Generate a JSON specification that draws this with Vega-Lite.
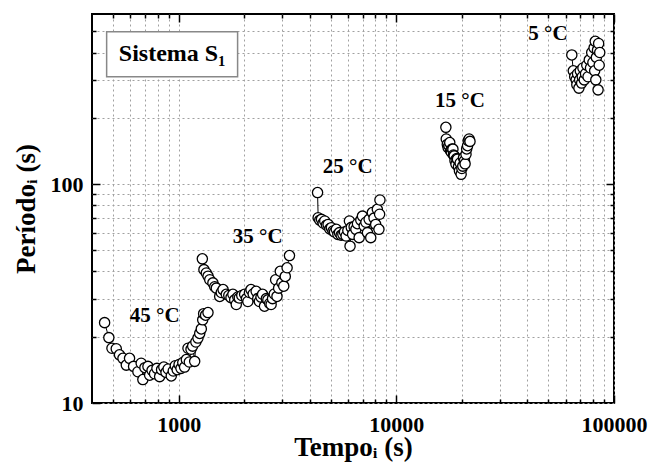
{
  "$schema": "https://vega.github.io/schema/vega-lite/v6.json",
  "width": 522,
  "height": 389,
  "autosize": {"type": "none"},
  "padding": {"left": 92, "top": 14, "right": 35, "bottom": 68},
  "background": "white",
  "config": {
    "view": {"stroke": "black", "strokeWidth": 2},
    "font": "Liberation Serif",
    "axis": {
      "labelFont": "Liberation Serif",
      "labelFontSize": 22,
      "labelFontWeight": "bold",
      "labelColor": "black",
      "titleFont": "Liberation Serif",
      "titleFontSize": 27,
      "titleFontWeight": "bold",
      "titleColor": "black",
      "tickColor": "black",
      "tickWidth": 1.5,
      "domain": false,
      "gridColor": "#a0a0a0",
      "gridDash": [2, 3],
      "gridWidth": 1,
      "labelFlush": false,
      "labelOverlap": false
    }
  },
  "datasets": {
    "main": [
      {"s": "45", "t": 457, "p": 23.3}, {"s": "45", "t": 478, "p": 19.9}, {"s": "45", "t": 494, "p": 17.8}, {"s": "45", "t": 517, "p": 17.7},
      {"s": "45", "t": 535, "p": 16.6}, {"s": "45", "t": 555, "p": 16.0}, {"s": "45", "t": 575, "p": 14.9}, {"s": "45", "t": 595, "p": 16.0},
      {"s": "45", "t": 621, "p": 14.7}, {"s": "45", "t": 650, "p": 13.9}, {"s": "45", "t": 673, "p": 15.2}, {"s": "45", "t": 685, "p": 12.8},
      {"s": "45", "t": 700, "p": 14.5}, {"s": "45", "t": 723, "p": 14.7}, {"s": "45", "t": 736, "p": 13.4}, {"s": "45", "t": 755, "p": 14.1},
      {"s": "45", "t": 775, "p": 13.6}, {"s": "45", "t": 795, "p": 14.4}, {"s": "45", "t": 818, "p": 13.2}, {"s": "45", "t": 835, "p": 14.2},
      {"s": "45", "t": 855, "p": 14.6}, {"s": "45", "t": 875, "p": 13.8}, {"s": "45", "t": 895, "p": 14.3}, {"s": "45", "t": 925, "p": 13.3},
      {"s": "45", "t": 945, "p": 14.0}, {"s": "45", "t": 965, "p": 14.8}, {"s": "45", "t": 985, "p": 14.2}, {"s": "45", "t": 1005, "p": 15.0},
      {"s": "45", "t": 1025, "p": 14.4}, {"s": "45", "t": 1045, "p": 15.3}, {"s": "45", "t": 1065, "p": 14.6}, {"s": "45", "t": 1085, "p": 15.8},
      {"s": "45", "t": 1104, "p": 17.8}, {"s": "45", "t": 1120, "p": 15.4}, {"s": "45", "t": 1140, "p": 17.6}, {"s": "45", "t": 1160, "p": 18.2},
      {"s": "45", "t": 1185, "p": 15.5}, {"s": "45", "t": 1200, "p": 19.0}, {"s": "45", "t": 1227, "p": 19.8}, {"s": "45", "t": 1250, "p": 20.8},
      {"s": "45", "t": 1271, "p": 21.8}, {"s": "45", "t": 1290, "p": 24.0}, {"s": "45", "t": 1303, "p": 25.6}, {"s": "45", "t": 1330, "p": 25.2},
      {"s": "45", "t": 1364, "p": 25.9},
      {"s": "35", "t": 1285, "p": 45.6}, {"s": "35", "t": 1307, "p": 40.7}, {"s": "35", "t": 1340, "p": 39.3}, {"s": "35", "t": 1365, "p": 38.0},
      {"s": "35", "t": 1390, "p": 36.6}, {"s": "35", "t": 1437, "p": 35.4}, {"s": "35", "t": 1465, "p": 34.0}, {"s": "35", "t": 1490, "p": 33.5},
      {"s": "35", "t": 1544, "p": 30.7}, {"s": "35", "t": 1570, "p": 32.0}, {"s": "35", "t": 1600, "p": 33.0}, {"s": "35", "t": 1655, "p": 31.4},
      {"s": "35", "t": 1700, "p": 31.0}, {"s": "35", "t": 1740, "p": 30.3}, {"s": "35", "t": 1775, "p": 31.4}, {"s": "35", "t": 1810, "p": 29.6},
      {"s": "35", "t": 1840, "p": 28.2}, {"s": "35", "t": 1870, "p": 30.5}, {"s": "35", "t": 1900, "p": 30.2}, {"s": "35", "t": 1950, "p": 31.0},
      {"s": "35", "t": 2010, "p": 31.4}, {"s": "35", "t": 2050, "p": 30.0}, {"s": "35", "t": 2080, "p": 29.1}, {"s": "35", "t": 2115, "p": 32.0},
      {"s": "35", "t": 2150, "p": 33.0}, {"s": "35", "t": 2200, "p": 31.5}, {"s": "35", "t": 2270, "p": 32.4}, {"s": "35", "t": 2310, "p": 30.0},
      {"s": "35", "t": 2350, "p": 29.1}, {"s": "35", "t": 2390, "p": 30.5}, {"s": "35", "t": 2430, "p": 31.4}, {"s": "35", "t": 2480, "p": 27.7},
      {"s": "35", "t": 2530, "p": 30.0}, {"s": "35", "t": 2570, "p": 29.6}, {"s": "35", "t": 2620, "p": 28.5}, {"s": "35", "t": 2660, "p": 28.2},
      {"s": "35", "t": 2700, "p": 30.0}, {"s": "35", "t": 2750, "p": 31.5}, {"s": "35", "t": 2790, "p": 36.6}, {"s": "35", "t": 2830, "p": 30.7},
      {"s": "35", "t": 2880, "p": 33.5}, {"s": "35", "t": 2930, "p": 40.0}, {"s": "35", "t": 2980, "p": 35.5}, {"s": "35", "t": 3040, "p": 34.2},
      {"s": "35", "t": 3090, "p": 37.9}, {"s": "35", "t": 3150, "p": 41.5}, {"s": "35", "t": 3230, "p": 47.2},
      {"s": "25", "t": 4347, "p": 91.6}, {"s": "25", "t": 4375, "p": 70.3}, {"s": "25", "t": 4450, "p": 68.5}, {"s": "25", "t": 4530, "p": 69.1},
      {"s": "25", "t": 4610, "p": 66.5}, {"s": "25", "t": 4690, "p": 67.9}, {"s": "25", "t": 4780, "p": 65.0}, {"s": "25", "t": 4860, "p": 65.5},
      {"s": "25", "t": 4950, "p": 62.5}, {"s": "25", "t": 5030, "p": 63.3}, {"s": "25", "t": 5120, "p": 61.1}, {"s": "25", "t": 5200, "p": 60.5},
      {"s": "25", "t": 5300, "p": 62.2}, {"s": "25", "t": 5390, "p": 59.0}, {"s": "25", "t": 5480, "p": 60.1}, {"s": "25", "t": 5580, "p": 58.5},
      {"s": "25", "t": 5680, "p": 59.0}, {"s": "25", "t": 5780, "p": 60.5}, {"s": "25", "t": 5880, "p": 58.0}, {"s": "25", "t": 5990, "p": 61.5},
      {"s": "25", "t": 6090, "p": 67.9}, {"s": "25", "t": 6130, "p": 52.1}, {"s": "25", "t": 6210, "p": 63.5}, {"s": "25", "t": 6300, "p": 59.0},
      {"s": "25", "t": 6400, "p": 64.0}, {"s": "25", "t": 6520, "p": 62.2}, {"s": "25", "t": 6630, "p": 66.0}, {"s": "25", "t": 6750, "p": 57.0},
      {"s": "25", "t": 6870, "p": 68.5}, {"s": "25", "t": 6990, "p": 71.5}, {"s": "25", "t": 7120, "p": 64.4}, {"s": "25", "t": 7250, "p": 67.0},
      {"s": "25", "t": 7370, "p": 60.1}, {"s": "25", "t": 7500, "p": 69.1}, {"s": "25", "t": 7630, "p": 57.0}, {"s": "25", "t": 7760, "p": 74.2},
      {"s": "25", "t": 7900, "p": 70.0}, {"s": "25", "t": 8040, "p": 65.5}, {"s": "25", "t": 8180, "p": 76.8}, {"s": "25", "t": 8320, "p": 62.2},
      {"s": "25", "t": 8380, "p": 72.9}, {"s": "25", "t": 8410, "p": 84.7},
      {"s": "15", "t": 16890, "p": 182}, {"s": "15", "t": 16960, "p": 161}, {"s": "15", "t": 17150, "p": 152}, {"s": "15", "t": 17300, "p": 147},
      {"s": "15", "t": 17450, "p": 150}, {"s": "15", "t": 17600, "p": 155}, {"s": "15", "t": 17750, "p": 142}, {"s": "15", "t": 17900, "p": 140},
      {"s": "15", "t": 18050, "p": 145}, {"s": "15", "t": 18200, "p": 144.7}, {"s": "15", "t": 18300, "p": 136}, {"s": "15", "t": 18450, "p": 134.8},
      {"s": "15", "t": 18600, "p": 128}, {"s": "15", "t": 18800, "p": 123.5}, {"s": "15", "t": 18950, "p": 131}, {"s": "15", "t": 19100, "p": 130.2},
      {"s": "15", "t": 19300, "p": 120}, {"s": "15", "t": 19500, "p": 115}, {"s": "15", "t": 19650, "p": 125}, {"s": "15", "t": 19850, "p": 111},
      {"s": "15", "t": 20000, "p": 118}, {"s": "15", "t": 20200, "p": 121}, {"s": "15", "t": 20350, "p": 132}, {"s": "15", "t": 20550, "p": 128},
      {"s": "15", "t": 20700, "p": 124}, {"s": "15", "t": 20900, "p": 137}, {"s": "15", "t": 21050, "p": 145}, {"s": "15", "t": 21250, "p": 150},
      {"s": "15", "t": 21400, "p": 158}, {"s": "15", "t": 21600, "p": 161}, {"s": "15", "t": 21800, "p": 157},
      {"s": "5", "t": 64000, "p": 390}, {"s": "5", "t": 65000, "p": 330}, {"s": "5", "t": 66000, "p": 310}, {"s": "5", "t": 67000, "p": 300},
      {"s": "5", "t": 67500, "p": 285}, {"s": "5", "t": 68000, "p": 320}, {"s": "5", "t": 69000, "p": 275}, {"s": "5", "t": 69500, "p": 300},
      {"s": "5", "t": 70000, "p": 330}, {"s": "5", "t": 71000, "p": 290}, {"s": "5", "t": 71500, "p": 310}, {"s": "5", "t": 72000, "p": 340},
      {"s": "5", "t": 73000, "p": 300}, {"s": "5", "t": 74000, "p": 320}, {"s": "5", "t": 75000, "p": 350}, {"s": "5", "t": 76000, "p": 310},
      {"s": "5", "t": 77000, "p": 370}, {"s": "5", "t": 78000, "p": 340}, {"s": "5", "t": 79000, "p": 400}, {"s": "5", "t": 80000, "p": 360},
      {"s": "5", "t": 81000, "p": 420}, {"s": "5", "t": 81500, "p": 330}, {"s": "5", "t": 82000, "p": 450}, {"s": "5", "t": 82500, "p": 300},
      {"s": "5", "t": 83000, "p": 380}, {"s": "5", "t": 84000, "p": 410}, {"s": "5", "t": 84500, "p": 270}, {"s": "5", "t": 85000, "p": 440},
      {"s": "5", "t": 85500, "p": 350}, {"s": "5", "t": 86000, "p": 400}
    ],
    "temps": [
      {"label": "45 °C", "t": 776, "p": 25.1},
      {"label": "35 °C", "t": 2308, "p": 57.1},
      {"label": "25 °C", "t": 5984, "p": 119.7},
      {"label": "15 °C", "t": 19590, "p": 240},
      {"label": "5 °C", "t": 49750, "p": 488}
    ],
    "box": [
      {"t1": 467, "t2": 1866, "p1": 310, "p2": 498, "tc": 933, "pc": 393, "label": "Sistema S₁"}
    ]
  },
  "resolve": {"axis": {"x": "independent", "y": "independent"}},
  "layer": [
    {
      "data": {"name": "main"},
      "mark": {"type": "point", "opacity": 0},
      "encoding": {
        "x": {"field": "t", "type": "quantitative", "scale": {"type": "log", "domain": [400, 100000], "nice": false},
          "axis": {"orient": "top", "labels": false, "grid": false, "title": null,
            "values": [500,600,700,800,900,1000,2000,3000,4000,5000,6000,7000,8000,9000,10000,20000,30000,40000,50000,60000,70000,80000,90000,100000],
            "tickSize": {"condition": {"test": "datum.value == 1000 || datum.value == 10000 || datum.value == 100000", "value": -8}, "value": -4}}},
        "y": {"field": "p", "type": "quantitative", "scale": {"type": "log", "domain": [10, 600], "nice": false},
          "axis": {"orient": "right", "labels": false, "grid": false, "title": null,
            "values": [20,30,40,50,60,70,80,90,100,200,300,400,500],
            "tickSize": {"condition": {"test": "datum.value == 10 || datum.value == 100", "value": -8}, "value": -4}}}
      }
    },
    {
      "data": {"name": "box"},
      "mark": {"type": "rect", "fill": "white", "stroke": "#888888", "strokeWidth": 1.5},
      "encoding": {
        "x": {"field": "t1", "type": "quantitative", "scale": {"type": "log", "domain": [400, 100000], "nice": false}, "axis": null},
        "x2": {"field": "t2"},
        "y": {"field": "p1", "type": "quantitative", "scale": {"type": "log", "domain": [10, 600], "nice": false}, "axis": null},
        "y2": {"field": "p2"}
      }
    },
    {
      "data": {"name": "box"},
      "mark": {"type": "text", "font": "Liberation Serif", "fontSize": 24, "fontWeight": "bold", "color": "black", "align": "center", "baseline": "middle"},
      "encoding": {
        "x": {"field": "tc", "type": "quantitative", "scale": {"type": "log", "domain": [400, 100000], "nice": false}, "axis": null},
        "y": {"field": "pc", "type": "quantitative", "scale": {"type": "log", "domain": [10, 600], "nice": false}, "axis": null},
        "text": {"field": "label"}
      }
    },
    {
      "data": {"name": "temps"},
      "mark": {"type": "text", "font": "Liberation Serif", "fontSize": 21, "fontWeight": "bold", "color": "black", "align": "center", "baseline": "middle"},
      "encoding": {
        "x": {"field": "t", "type": "quantitative", "scale": {"type": "log", "domain": [400, 100000], "nice": false}, "axis": null},
        "y": {"field": "p", "type": "quantitative", "scale": {"type": "log", "domain": [10, 600], "nice": false}, "axis": null},
        "text": {"field": "label"}
      }
    },
    {
      "data": {"name": "main"},
      "mark": {"type": "line", "color": "black", "strokeWidth": 1,
        "point": {"filled": true, "fill": "white", "stroke": "black", "strokeWidth": 1.3, "size": 105, "opacity": 1}},
      "encoding": {
        "x": {"field": "t", "type": "quantitative", "scale": {"type": "log", "domain": [400, 100000], "nice": false},
          "axis": {"orient": "bottom", "grid": true, "title": "Tempoᵢ (s)", "format": "d",
            "values": [500,600,700,800,900,1000,2000,3000,4000,5000,6000,7000,8000,9000,10000,20000,30000,40000,50000,60000,70000,80000,90000,100000],
            "labelExpr": "datum.value == 1000 || datum.value == 10000 || datum.value == 100000 ? datum.label : ''",
            "tickSize": {"condition": {"test": "datum.value == 1000 || datum.value == 10000 || datum.value == 100000", "value": -8}, "value": -4},
            "labelPadding": 19, "titlePadding": -5}},
        "y": {"field": "p", "type": "quantitative", "scale": {"type": "log", "domain": [10, 600], "nice": false},
          "axis": {"orient": "left", "grid": true, "title": "Períodoᵢ (s)", "format": "d",
            "values": [10,20,30,40,50,60,70,80,90,100,200,300,400,500],
            "labelExpr": "datum.value == 10 || datum.value == 100 ? datum.label : ''",
            "tickSize": {"condition": {"test": "datum.value == 10 || datum.value == 100", "value": -8}, "value": -4},
            "labelPadding": 17, "titlePadding": 10}},
        "detail": {"field": "s", "type": "nominal"}
      }
    }
  ]
}
